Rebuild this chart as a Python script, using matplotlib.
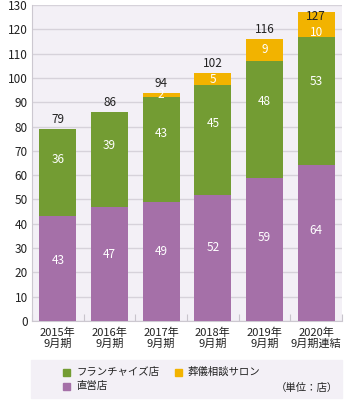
import matplotlib.pyplot as plt
import matplotlib.patches as mpatches
import numpy as np

plt.rcParams['font.family'] = ['Noto Sans CJK JP', 'DejaVu Sans']

# データ
years = ["2015年\n9月期", "2016年\n9月期", "2017年\n9月期",
         "2018年\n9月期", "2019年\n9月期", "2020年\n9月期連結"]
chokuei = [43, 47, 49, 52, 59, 64]        # 直営店
franchise = [36, 39, 43, 45, 48, 53]      # フランチャイズ店
salon = [0, 0, 2, 5, 9, 10]               # 葬儀相談サロン
totals = [79, 86, 94, 102, 116, 127]

c_purple = "#A570A8"
c_green = "#739C33"
c_orange = "#F2B300"
bg = "#F3F0F6"

fig = plt.figure(figsize=(3.46, 4.0), dpi=100)
ax = fig.add_axes([32/346, 1 - 321/400, 310/346, 316/400])
ax.set_facecolor(bg)

x = np.arange(len(years))
w = 0.71
ax.bar(x, chokuei, w, color=c_purple, zorder=3)
ax.bar(x, franchise, w, bottom=chokuei, color=c_green, zorder=3)
base2 = np.array(chokuei) + np.array(franchise)
ax.bar(x, salon, w, bottom=base2, color=c_orange, zorder=3)

ax.set_xlim(-0.5, len(years) - 0.5)
ax.set_ylim(0, 130)
ax.set_yticks(range(0, 131, 10))
ax.grid(axis='y', color="#D6D2DA", lw=1, zorder=0)
ax.tick_params(axis='y', length=0, labelsize=8.5, pad=3, labelcolor="#222222")

ax.set_xticks(x)
ax.set_xticklabels(years, fontsize=8, linespacing=1.0, color="#222222")
ax.tick_params(axis='x', length=0, pad=5)
ax.set_xticks(np.arange(-0.5, len(years), 1), minor=True)
ax.tick_params(axis='x', which='minor', direction='in', length=5, color="#C8C4CC", width=0.8)

for s in ['top', 'right']:
    ax.spines[s].set_visible(False)
for s in ['left', 'bottom']:
    ax.spines[s].set_color("#CCC8D0")
    ax.spines[s].set_linewidth(0.8)

for i in range(len(years)):
    ax.text(x[i], chokuei[i] * 0.58, str(chokuei[i]), ha='center', va='center',
            color='white', fontsize=8.5, zorder=4)
    ax.text(x[i], chokuei[i] + franchise[i] * 0.65, str(franchise[i]), ha='center',
            va='center', color='white', fontsize=8.5, zorder=4)
    if salon[i] > 0:
        ax.text(x[i], min(base2[i] + salon[i] / 2, 118.5), str(salon[i]), ha='center',
                va='center', color='white', fontsize=8.5, zorder=4)
    ax.text(x[i], min(totals[i] + 1.2, 122.5), str(totals[i]), ha='center', va='bottom',
            color='#222222', fontsize=8.5, zorder=4)

# 凡例エリア
fig.patches.append(mpatches.Rectangle((31/346, 2/400), 311/346, 38/400,
                                      transform=fig.transFigure, color=bg, zorder=0))
items = [(c_green, "フランチャイズ店", 63, 372), (c_orange, "葬儀相談サロン", 175, 372),
         (c_purple, "直営店", 63, 386)]
for col, lab, px, py in items:
    fig.patches.append(mpatches.Rectangle((px/346, 1 - (py + 3.5)/400), 7/346, 7/400,
                                          transform=fig.transFigure, color=col, zorder=1))
    fig.text((px + 13)/346, 1 - py/400, lab, fontsize=7.5, va='center', ha='left',
             color="#222222")
fig.text(338/346, 1 - 388/400, "（単位：店）", fontsize=7.5, va='center', ha='right',
         color="#222222")

fig.savefig("out.png", dpi=100)
